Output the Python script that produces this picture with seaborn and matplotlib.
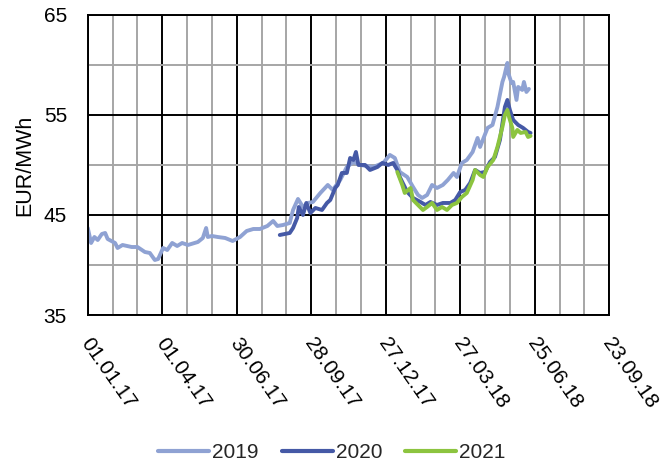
import numpy as np
import pandas as pd
import seaborn as sns
import matplotlib.pyplot as plt
import matplotlib.dates as mdates
import matplotlib.transforms as mtransforms

# days after 01.01.17 and price (EUR/MWh)
days_2019 = [0, 4, 8, 12, 17, 21, 24, 33, 36, 42, 53, 60, 69, 75, 81, 85, 91, 96,
             102, 108, 114, 121, 133, 139, 143, 145, 150, 157, 166, 175, 184, 192,
             200, 208, 217, 224, 229, 236, 244, 248, 254, 260, 266, 272, 281, 290,
             296, 305, 313, 321, 329, 345, 357, 365, 371, 377, 386, 393, 399, 404,
             410, 416, 422, 429, 435, 442, 446, 452, 458, 465, 471, 474, 483, 489,
             495, 501, 503, 507, 508, 512, 514, 518, 520, 525, 527, 530, 533]
price_2019 = [43.7, 42.2, 42.8, 42.5, 43.1, 43.2, 42.6, 42.2, 41.7, 42.0, 41.8, 41.8,
              41.3, 41.2, 40.5, 40.6, 41.7, 41.5, 42.2, 41.9, 42.2, 42.0, 42.3, 42.7,
              43.7, 42.8, 42.9, 42.8, 42.7, 42.4, 42.8, 43.4, 43.6, 43.6, 43.9, 44.4,
              43.9, 44.0, 44.2, 45.5, 46.6, 45.8, 46.2, 46.3, 47.2, 48.0, 47.5, 48.5,
              49.8, 50.3, 50.0, 49.8, 50.2, 51.0, 50.7, 49.3, 48.8, 47.8, 47.0, 46.7,
              47.0, 48.0, 47.7, 48.0, 48.5, 49.2, 48.8, 50.2, 50.5, 51.3, 52.7, 51.8,
              53.7, 54.0, 55.8, 58.3, 58.8, 60.2, 59.2, 58.2, 58.3, 56.5, 57.8, 57.5,
              58.3, 57.3, 57.6]

days_2020 = [232, 244, 248, 253, 255, 260, 264, 269, 275, 283, 289, 293, 299, 302,
             307, 313, 317, 321, 324, 327, 335, 341, 350, 356, 363, 369, 374, 377,
             386, 393, 402, 408, 414, 422, 429, 438, 444, 450, 456, 462, 468, 474,
             480, 486, 492, 498, 504, 507, 510, 514, 520, 526, 532, 535]
price_2020 = [43.0, 43.2, 43.7, 44.7, 45.8, 45.0, 46.2, 45.2, 45.7, 45.5, 46.2, 46.5,
              47.7, 48.0, 49.2, 49.2, 50.7, 50.5, 51.3, 50.0, 50.0, 49.5, 49.8, 50.2,
              50.0, 50.2, 49.5, 48.8, 47.3, 46.7, 46.3, 46.0, 46.3, 46.0, 46.2, 46.2,
              46.5, 47.3, 47.5, 48.2, 49.5, 49.2, 49.3, 50.3, 50.8, 52.5, 55.8, 56.5,
              55.5, 54.5, 54.0, 53.7, 53.3, 53.2]

days_2021 = [374, 380, 383, 390, 393, 399, 405, 410, 416, 422, 428, 434, 440, 446,
             452, 458, 465, 468, 474, 478, 483, 490, 495, 501, 504, 507, 509, 513,
             514, 519, 523, 529, 532, 535]
price_2021 = [49.3, 48.0, 47.2, 47.7, 46.5, 46.0, 45.5, 45.8, 46.2, 45.5, 45.8, 45.5,
              46.0, 46.2, 46.8, 47.2, 48.5, 49.5, 49.0, 48.8, 49.8, 50.5, 51.8, 53.8,
              55.0, 55.5, 54.8, 53.7, 52.8, 53.5, 53.2, 53.3, 52.8, 52.9]

start = pd.Timestamp("2017-01-01")
frames = []
for name, d, p in [("2019", days_2019, price_2019),
                   ("2020", days_2020, price_2020),
                   ("2021", days_2021, price_2021)]:
    frames.append(pd.DataFrame({"date": start + pd.to_timedelta(d, unit="D"),
                                "price": p, "year": name}))
df = pd.concat(frames, ignore_index=True)

sns.set_theme(style="white")
plt.rcParams['font.family'] = ['Liberation Sans', 'DejaVu Sans']

fig = plt.figure(figsize=(6.6, 4.66), dpi=100)
ax = fig.add_axes([0.133, 0.324, 0.79, 0.644])

# grid first so the lines sit on top
major_x = [start + pd.Timedelta(days=90 * i) for i in range(8)]
minor_x = [start + pd.Timedelta(days=30 * i) for i in range(22)]
ax.set_xticks(major_x)
ax.set_xticks(minor_x, minor=True)
ax.set_yticks([35, 45, 55, 65])
ax.set_yticks([40, 50, 60], minor=True)
ax.grid(which="minor", color="#a6a6a6", linewidth=1.4)
ax.grid(which="major", color="black", linewidth=1.4)
ax.set_axisbelow(True)

palette = {"2019": "#8fa2d3", "2020": "#4559a6", "2021": "#8cc43f"}
sns.lineplot(data=df, x="date", y="price", hue="year", palette=palette,
             linewidth=2.8, ax=ax, legend=False)

ax.set_xlim(major_x[0], major_x[-1])
ax.set_ylim(35, 65)
ax.xaxis.set_major_formatter(mdates.DateFormatter("%d.%m.%y"))
ax.tick_params(axis="both", which="both", length=0, labelsize=15, colors="black")
ax.tick_params(axis="x", pad=14)
ax.tick_params(axis="y", pad=15)
shift = mtransforms.ScaledTranslation(5 / 100, 0, fig.dpi_scale_trans)
for lbl in ax.get_xticklabels():
    lbl.set_rotation(-55)
    lbl.set_ha("left")
    lbl.set_va("top")
    lbl.set_rotation_mode("anchor")
    lbl.set_transform(lbl.get_transform() + shift)
for s in ax.spines.values():
    s.set_color("black")
    s.set_linewidth(1.4)
ax.set_xlabel("")
ax.set_ylabel("EUR/MWh", fontsize=15.5, color="black", labelpad=6)

handles = [plt.Line2D([], [], color=palette[k], linewidth=3) for k in palette]
fig.legend(handles, list(palette), loc="center", bbox_to_anchor=(0.503, 13 / 466),
           ncol=3, frameon=False, fontsize=15, handlelength=2.45,
           handletextpad=0.15, columnspacing=1.1)

fig.savefig("out.png", dpi=100)
